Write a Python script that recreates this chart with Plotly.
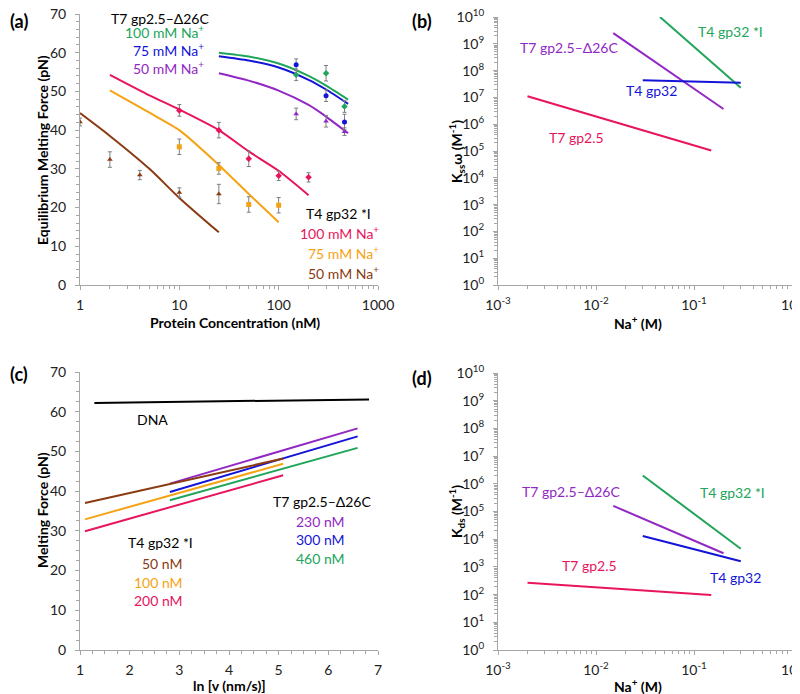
import plotly.graph_objects as go

# ---- panel (a): equilibrium melting force vs protein concentration ----
t7_fit_conc = [25, 50, 100, 200, 300, 500]
t7_100_fit = [60.0, 59.0, 57.2, 54.0, 51.5, 47.9]
t7_75_fit = [59.1, 58.0, 56.2, 53.0, 50.5, 46.8]
t7_50_fit = [54.7, 52.8, 50.2, 46.5, 43.5, 39.2]

t7_conc = [150, 300, 460]
t7_100 = [54.3, 54.7, 46.1]
t7_100_err = [1.5, 2.0, 1.5]
t7_75 = [56.9, 48.9, 42.1]
t7_75_err = [1.5, 1.5, 2.0]
t7_50 = [44.2, 42.3, 39.6]
t7_50_err = [1.5, 1.5, 1.0]

t4_100_fit_conc = [2, 5, 10, 25, 50, 100, 200]
t4_100_fit = [54.3, 49.0, 45.3, 40.0, 34.5, 29.5, 23.2]
t4_75_fit_conc = [2, 5, 10, 25, 50, 100]
t4_75_fit = [50.3, 44.5, 40.0, 31.0, 23.5, 16.2]
t4_50_fit_conc = [1, 2, 5, 10, 25]
t4_50_fit = [44.4, 38.5, 30.0, 22.5, 13.6]

t4_100_conc = [10, 25, 50, 100, 200]
t4_100 = [45.1, 40.0, 32.6, 28.2, 27.8]
t4_100_err = [1.5, 2.0, 2.0, 1.2, 1.2]
t4_75_conc = [10, 25, 50, 100]
t4_75 = [35.7, 30.1, 20.8, 20.6]
t4_75_err = [2.0, 1.5, 2.0, 2.0]
t4_50_conc = [1, 2, 4, 10, 25]
t4_50 = [42.1, 32.4, 28.4, 23.9, 23.5]
t4_50_err = [1.0, 2.0, 1.2, 1.2, 2.5]

# ---- panel (b): Kss*omega vs Na+ ----
b_t4i_na = [0.045, 0.30]
b_t4i_k = [1.0e10, 2.3e7]
b_t7d_na = [0.015, 0.20]
b_t7d_k = [2.5e9, 3.7e6]
b_t4_na = [0.030, 0.30]
b_t4_k = [4.4e7, 3.5e7]
b_t7_na = [0.002, 0.15]
b_t7_k = [1.1e7, 1.05e5]

# ---- panel (c): melting force vs ln(v) ----
c_dna_x = [1.29, 6.82]
c_dna_f = [62.2, 63.1]
c_t7_x = [2.81, 6.59]
c_230 = [41.9, 55.8]
c_300 = [39.8, 53.8]
c_460 = [37.7, 50.9]
c_t4_x = [1.10, 5.09]
c_50 = [37.0, 48.2]
c_100 = [32.9, 46.9]
c_200 = [29.9, 44.0]

# ---- panel (d): Kds vs Na+ ----
d_t4i_na = [0.030, 0.30]
d_t4i_k = [2.0e6, 4.5e3]
d_t7d_na = [0.015, 0.20]
d_t7d_k = [1.6e5, 3.1e3]
d_t4_na = [0.030, 0.30]
d_t4_k = [1.3e4, 1.6e3]
d_t7_na = [0.002, 0.15]
d_t7_k = [270, 97]

GREEN = "#20A55A"
BLUE = "#1414D8"
PURPLE = "#9228C4"
PINK = "#E8145C"
ORANGE = "#F5A314"
BROWN = "#8B3A12"
AXC = "#A6A6A6"
FONT = "Lato"

# page body has an 8px margin, so the figure is drawn 8px in from the corner
OFF = 8
W, H = 800 - OFF, 694 - OFF


def px(x):
    return min(1, max(0, (x - OFF) / W))


def py(y):
    return min(1, max(0, 1 - (y - OFF) / H))


fig = go.Figure()


def line(x, y, color, xa, ya, width=2):
    fig.add_trace(go.Scatter(x=x, y=y, mode="lines", line=dict(color=color, width=width, shape="spline", smoothing=0.6),
                             xaxis=xa, yaxis=ya, showlegend=False, hoverinfo="skip"))


def pts(x, y, err, color, symbol):
    fig.add_trace(go.Scatter(x=x, y=y, mode="markers",
                             marker=dict(color=color, symbol=symbol, size=5),
                             error_y=dict(type="data", array=err, color="#7F7F7F", thickness=1, width=2),
                             xaxis="x", yaxis="y", showlegend=False))


# (a)
line(t7_fit_conc, t7_100_fit, GREEN, "x", "y")
line(t7_fit_conc, t7_75_fit, BLUE, "x", "y")
line(t7_fit_conc, t7_50_fit, PURPLE, "x", "y")
line(t4_100_fit_conc, t4_100_fit, PINK, "x", "y")
line(t4_75_fit_conc, t4_75_fit, ORANGE, "x", "y")
line(t4_50_fit_conc, t4_50_fit, BROWN, "x", "y")
pts(t7_conc, t7_100, t7_100_err, GREEN, "diamond")
pts(t7_conc, t7_75, t7_75_err, BLUE, "circle")
pts(t7_conc, t7_50, t7_50_err, PURPLE, "triangle-up")
pts(t4_100_conc, t4_100, t4_100_err, PINK, "diamond")
pts(t4_75_conc, t4_75, t4_75_err, ORANGE, "square")
pts(t4_50_conc, t4_50, t4_50_err, BROWN, "triangle-up")

# (b)
line(b_t4i_na, b_t4i_k, GREEN, "x2", "y2")
line(b_t7d_na, b_t7d_k, PURPLE, "x2", "y2")
line(b_t4_na, b_t4_k, BLUE, "x2", "y2")
line(b_t7_na, b_t7_k, PINK, "x2", "y2")

# (c)
line(c_dna_x, c_dna_f, "black", "x3", "y3")
line(c_t7_x, c_230, PURPLE, "x3", "y3")
line(c_t7_x, c_300, BLUE, "x3", "y3")
line(c_t7_x, c_460, GREEN, "x3", "y3")
line(c_t4_x, c_50, BROWN, "x3", "y3")
line(c_t4_x, c_100, ORANGE, "x3", "y3")
line(c_t4_x, c_200, PINK, "x3", "y3")

# (d)
line(d_t4i_na, d_t4i_k, GREEN, "x4", "y4")
line(d_t7d_na, d_t7d_k, PURPLE, "x4", "y4")
line(d_t4_na, d_t4_k, BLUE, "x4", "y4")
line(d_t7_na, d_t7_k, PINK, "x4", "y4")

base = dict(showline=True, linecolor=AXC, linewidth=1, ticks="outside", tickcolor=AXC,
            ticklen=4, showgrid=False, zeroline=False, automargin=False,
            ticklabeloverflow="allow",
            tickfont=dict(family=FONT, size=14, color="#222"))
xbase = dict(base, ticklabelstandoff=3)
ybase = dict(base, ticklabelstandoff=6)
minor = dict(ticks="outside", ticklen=3, tickcolor=AXC, showgrid=False)


def log_minor(lo, hi):
    # minor ticks at 2..9 within each decade
    vals = [m * 10 ** e for e in range(lo, hi) for m in range(2, 10)]
    return dict(minor, tickmode="array", tickvals=vals)


pow_vals_x = [1e-3, 1e-2, 1e-1, 1]
pow_text_x = ["10<sup>-3</sup>", "10<sup>-2</sup>", "10<sup>-1</sup>", "10<sup>0</sup>"]
pow_vals_y = [10 ** i for i in range(11)]
pow_text_y = ["10<sup>%d</sup>" % i for i in range(11)]

dom_ax = [px(80), px(378)]
dom_bx = [px(498), px(792)]

fig.update_layout(
    width=W, height=H, margin=dict(l=0, r=0, t=0, b=0),
    paper_bgcolor="white", plot_bgcolor="white", showlegend=False,
    font=dict(family=FONT, size=13, color="black"),
    xaxis=dict(xbase, type="log", range=[0, 3], domain=dom_ax, anchor="y",
               tickvals=[1, 10, 100, 1000], ticktext=["1", "10", "100", "1000"], minor=log_minor(0, 3)),
    yaxis=dict(ybase, range=[0, 70], domain=[py(285), py(14)], anchor="x", dtick=10,
               minor=dict(minor, dtick=2)),
    xaxis2=dict(xbase, type="log", range=[-3, 0], domain=dom_bx, anchor="y2",
                tickvals=pow_vals_x, ticktext=pow_text_x, minor=log_minor(-3, 0)),
    yaxis2=dict(ybase, type="log", range=[0, 10], domain=[py(285), py(17)], anchor="x2",
                tickvals=pow_vals_y, ticktext=pow_text_y, minor=log_minor(0, 10)),
    xaxis3=dict(xbase, range=[1, 7], domain=dom_ax, anchor="y3", dtick=1,
                minor=dict(minor, dtick=0.25)),
    yaxis3=dict(ybase, range=[0, 70], domain=[py(650), py(372)], anchor="x3", dtick=10,
                minor=dict(minor, dtick=2.5)),
    xaxis4=dict(xbase, type="log", range=[-3, 0], domain=dom_bx, anchor="y4",
                tickvals=pow_vals_x, ticktext=pow_text_x, minor=log_minor(-3, 0)),
    yaxis4=dict(ybase, type="log", range=[0, 10], domain=[py(650), py(373)], anchor="x4",
                tickvals=pow_vals_y, ticktext=pow_text_y, minor=log_minor(0, 10)),
)


def note(text, x, y, color="black", size=14, bold=False, anchor="center", angle=0, vanchor="middle"):
    if bold:
        text = "<b>" + text + "</b>"
    fig.add_annotation(text=text, x=px(x), y=py(y), xref="paper", yref="paper",
                       showarrow=False, xanchor=anchor, yanchor=vanchor, textangle=angle,
                       font=dict(family=FONT, size=size, color=color))


# panel labels
note("(a)", 8, 8, size=18, bold=True, anchor="left", vanchor="top")
note("(b)", 422, 8, size=18, bold=True, vanchor="top")
note("(c)", 8, 374, size=18, bold=True, anchor="left")
note("(d)", 422, 378, size=18, bold=True)

# axis titles
note("Equilibrium Melting Force (pN)", 42, 150, size=14, bold=True, angle=-90)
note("Protein Concentration (nM)", 235, 322, size=14, bold=True)
note("K<sub>ss</sub>ω (M<sup>-1</sup>)", 456, 152, size=14, bold=True, angle=-90)
note("Na<sup>+</sup> (M)", 638, 322, size=14, bold=True)
note("Melting Force (pN)", 42, 510, size=14, bold=True, angle=-90)
note("ln [v (nm/s)]", 229, 685, size=14, bold=True)
note("K<sub>ds</sub> (M<sup>-1</sup>)", 456, 512, size=14, bold=True, angle=-90)
note("Na<sup>+</sup> (M)", 638, 685, size=14, bold=True)

# (a) labels
note("T7 gp2.5–Δ26C", 160, 8, vanchor="top")
note("100 mM Na<sup>+</sup>", 206, 31, GREEN, anchor="right")
note("75 mM Na<sup>+</sup>", 206, 49, BLUE, anchor="right")
note("50 mM Na<sup>+</sup>", 206, 67, PURPLE, anchor="right")
note("T4 gp32 *I", 338, 214)
note("100 mM Na<sup>+</sup>", 381, 233, PINK, anchor="right")
note("75 mM Na<sup>+</sup>", 381, 252, ORANGE, anchor="right")
note("50 mM Na<sup>+</sup>", 381, 272, BROWN, anchor="right")

# (b) labels
note("T4 gp32 *I", 730, 32, GREEN)
note("T7 gp2.5–Δ26C", 569, 48, PURPLE)
note("T4 gp32", 651, 90, BLUE)
note("T7 gp2.5", 576, 137, PINK)

# (c) labels
note("DNA", 152, 419)
note("T7 gp2.5–Δ26C", 322, 501)
note("230 nM", 347, 521, PURPLE, anchor="right")
note("300 nM", 347, 539, BLUE, anchor="right")
note("460 nM", 347, 558, GREEN, anchor="right")
note("T4 gp32 *I", 160, 542)
note("50 nM", 185, 563, BROWN, anchor="right")
note("100 nM", 185, 582, ORANGE, anchor="right")
note("200 nM", 185, 600, PINK, anchor="right")

# (d) labels
note("T7 gp2.5–Δ26C", 571, 491, PURPLE)
note("T4 gp32 *I", 732, 492, GREEN)
note("T7 gp2.5", 589, 565, PINK)
note("T4 gp32", 735, 577, BLUE)

fig.write_html("out.html")
